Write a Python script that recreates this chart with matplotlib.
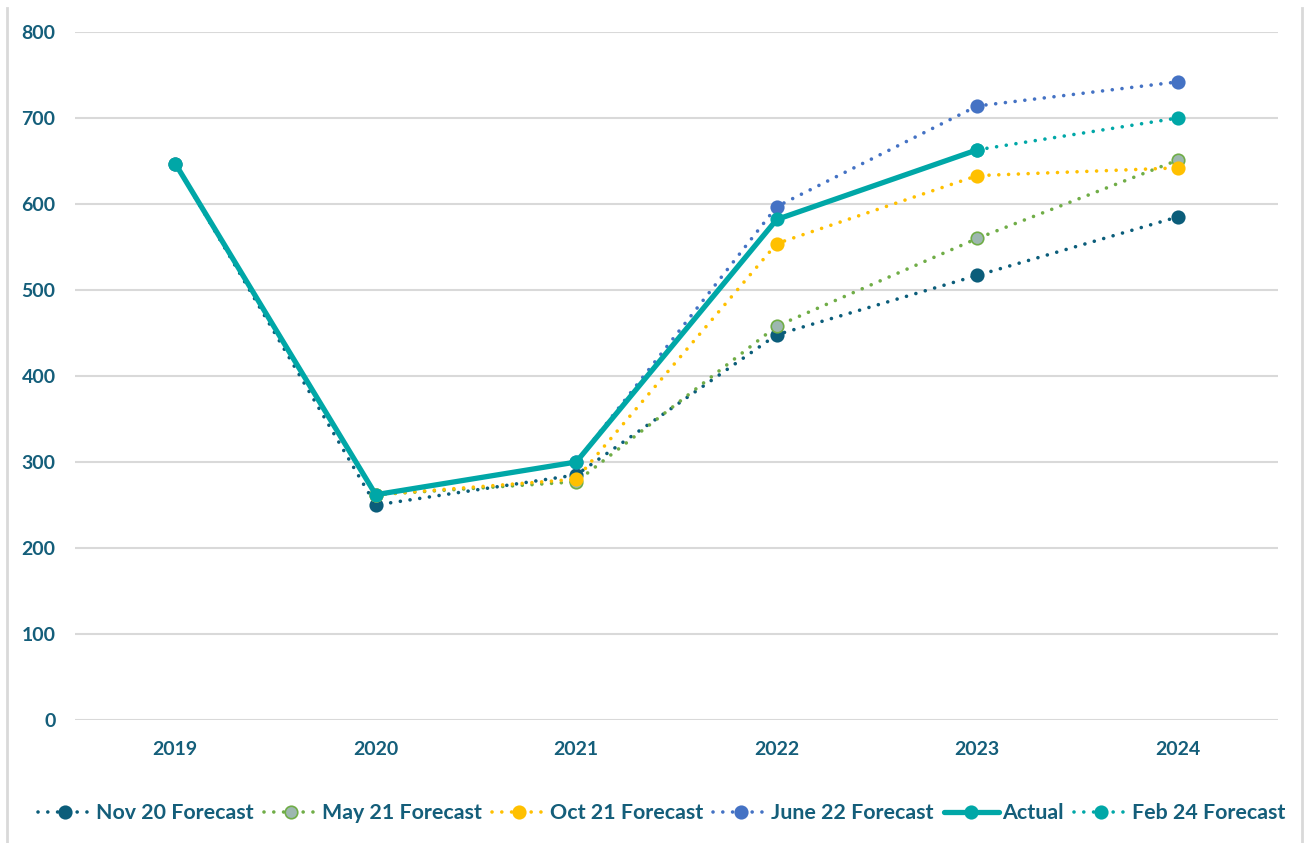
import numpy as np
import matplotlib
matplotlib.use("Agg")
from matplotlib import pyplot as plt
from matplotlib.lines import Line2D

years = [2019, 2020, 2021, 2022, 2023, 2024]

nov20 = [647, 250, 285, 448, 517, 585]
may21 = [None, 262, 277, 458, 560, 651]
oct21 = [None, 262, 280, 554, 633, 642]
jun22 = [None, None, 300, 597, 714, 742]
actual = [647, 262, 300, 582, 663, None]
feb24 = [None, None, None, None, 663, 700]

TEXT = "#145E7A"
DOTS = (0, (0.01, 2.7))
plt.rcParams['font.family'] = ['Lato', 'DejaVu Sans']


def as_array(vals):
    return np.array([np.nan if v is None else v for v in vals], dtype=float)


fig = plt.figure(figsize=(13.05, 8.43), dpi=100)
ax = fig.add_axes([75 / 1305, 123 / 843, 1203 / 1305, 688 / 843])

series = [
    ("Nov 20 Forecast", nov20, "#0B5D7A", "#0B5D7A", DOTS, 2.6),
    ("May 21 Forecast", may21, "#70AD47", "#9DB7B0", DOTS, 2.6),
    ("Oct 21 Forecast", oct21, "#FFC000", "#FFC000", DOTS, 2.6),
    ("June 22 Forecast", jun22, "#4472C4", "#4472C4", DOTS, 2.6),
    ("Actual", actual, "#00A7A7", "#00A7A7", "-", 3.8),
    ("Feb 24 Forecast", feb24, "#00A7A7", "#00A7A7", DOTS, 2.6),
]

for name, vals, col, face, ls, lw in series:
    ax.plot(years, as_array(vals), linestyle=ls, color=col, linewidth=lw,
            marker="o", markersize=9, markerfacecolor=face,
            markeredgecolor=col, markeredgewidth=1.2, label=name,
            dash_capstyle="round", solid_capstyle="round",
            zorder=4 if name == "Actual" else 3)

ax.set_xlim(2018.5, 2024.5)
ax.set_ylim(0, 800)
ax.set_yticks(range(0, 801, 100))
ax.set_xticks(years)
ax.grid(axis="y", color="#D9D9D9", linewidth=1.5)
ax.set_axisbelow(True)
for s in ax.spines.values():
    s.set_visible(False)
ax.tick_params(length=0, labelsize=14, labelcolor=TEXT)
ax.tick_params(axis="y", pad=14)
ax.tick_params(axis="x", pad=15)
for lab in ax.get_xticklabels() + ax.get_yticklabels():
    lab.set_fontweight("bold")

leg = ax.legend(loc="center", bbox_to_anchor=(0.5 - 15 / 1203, -(813 - 720) / 688),
                ncol=6, frameon=False, handlelength=2.57, handletextpad=0.15,
                columnspacing=0.47, borderaxespad=0,
                prop={"weight": "bold", "size": 15.4})
for t in leg.get_texts():
    t.set_color(TEXT)

# outer frame edges of the chart area
for x in (7, 1302):
    fig.add_artist(Line2D([x / 1305, x / 1305], [0, 1 - 8 / 843],
                          transform=fig.transFigure, color="#D9D9D9", linewidth=2))

fig.savefig("out.png", dpi=100)
